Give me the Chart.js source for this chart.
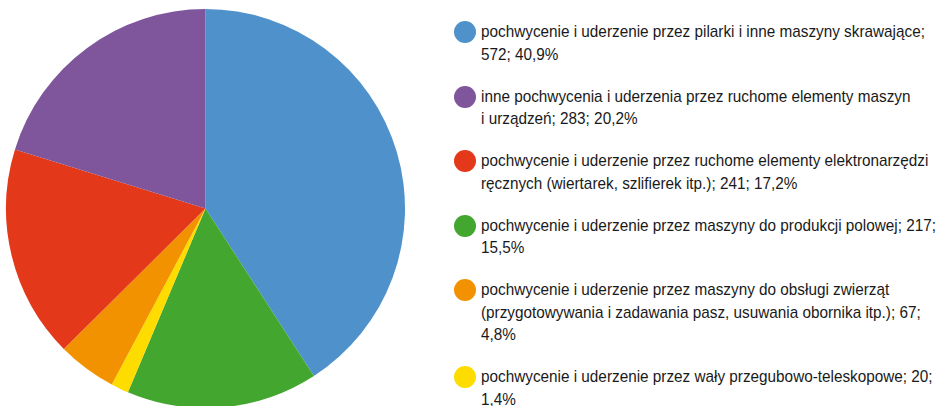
<!DOCTYPE html>
<html>
<head>
<meta charset="utf-8">
<script src="https://cdn.jsdelivr.net/npm/chart.js@4/dist/chart.umd.min.js"></script>
<style>
  html, body { margin: 0; padding: 0; background: #fff; overflow: hidden; }
  body { width: 944px; height: 406px; position: relative; font-family: "Liberation Sans", Arial, sans-serif; }
  #wrap { position: absolute; left: 0; top: 0; width: 411px; height: 417px; }
  #legend { position: absolute; left: 454px; top: 21px; width: 485px; margin: 0; padding: 0; list-style: none; }
  #legend li { position: relative; margin-bottom: 19.5px; padding-left: 27px; }
  #legend .dot { position: absolute; left: 0; top: 0; width: 22px; height: 22px; border-radius: 50%; }
  /* narrow look: Liberation Sans squeezed like Arial Narrow */
  #legend .txt { display: block; width: 512px; font-size: 17px; line-height: 22.5px; color: #1a1a1a;
                 transform: scaleX(0.9); transform-origin: 0 0; }
</style>
</head>
<body>
<div id="wrap"><canvas id="pieChart"></canvas></div>
<ul id="legend"></ul>
<script>
// slices in drawing order (clockwise from 12 o'clock)
const categories = [
  'pochwycenie i uderzenie przez pilarki i inne maszyny skrawające',
  'pochwycenie i uderzenie przez maszyny do produkcji polowej',
  'pochwycenie i uderzenie przez wały przegubowo-teleskopowe',
  'pochwycenie i uderzenie przez maszyny do obsługi zwierząt (przygotowywania i zadawania pasz, usuwania obornika itp.)',
  'pochwycenie i uderzenie przez ruchome elementy elektronarzędzi ręcznych (wiertarek, szlifierek itp.)',
  'inne pochwycenia i uderzenia przez ruchome elementy maszyn i urządzeń'
];
const values = [572, 217, 20, 67, 241, 283];
const percents = ['40,9%', '15,5%', '1,4%', '4,8%', '17,2%', '20,2%'];
const colors = ['#4f91ca', '#43a62f', '#ffdc00', '#f39200', '#e4381a', '#7f569b'];
// order of entries in the legend
const legendOrder = [0, 5, 4, 1, 3, 2];

const ctx = document.getElementById('pieChart').getContext('2d');
new Chart(ctx, {
  type: 'pie',
  data: {
    labels: categories,
    datasets: [{
      data: values,
      backgroundColor: colors,
      borderWidth: 0
    }]
  },
  options: {
    responsive: true,
    maintainAspectRatio: false,
    animation: false,
    layout: { padding: 6 },
    plugins: {
      legend: { display: false },
      tooltip: { enabled: false }
    }
  }
});

const legend = document.getElementById('legend');
legendOrder.forEach(i => {
  // single-letter "i" stays with the next word (Polish typesetting)
  const name = categories[i].replace(/ i /g, ' i\u00a0');
  const li = document.createElement('li');
  li.innerHTML = `
    <span class="dot" style="background:${colors[i]}"></span>
    <span class="txt">${name}; ${values[i]}; ${percents[i]}</span>
  `;
  legend.appendChild(li);
});
</script>
</body>
</html>
